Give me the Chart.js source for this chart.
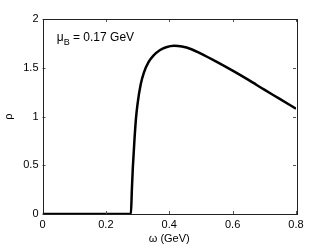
<!DOCTYPE html>
<html><head><meta charset="utf-8">
<script src="https://cdn.jsdelivr.net/npm/chart.js@4"></script>
<style>html,body{margin:0;padding:0;background:#fff;}#wrap{width:327px;height:246px;}</style>
</head><body><div id="wrap"><canvas id="c" width="327" height="246"></canvas></div>
<script>
const omega = [0, 0.279, 0.282, 0.285, 0.29, 0.295, 0.3, 0.31, 0.32, 0.335, 0.35, 0.37, 0.39, 0.415, 0.44, 0.47, 0.5, 0.55, 0.6, 0.65, 0.7, 0.75, 0.8];
const rho =   [0, 0,     0.25,  0.47,  0.75, 0.98,  1.13, 1.33, 1.45, 1.56,  1.625, 1.68, 1.71, 1.725, 1.718, 1.69, 1.645, 1.56, 1.47, 1.375, 1.275, 1.178, 1.08];
const xTicks = [0, 0.2, 0.4, 0.6, 0.8];
const yTicks = [0, 0.5, 1, 1.5, 2];
const annotation = {main: 'μ', sub: 'B', rest: ' = 0.17 GeV', x: 0.045, y: 1.77};

const FONT = '"Liberation Sans", Arial, sans-serif';
const boxPlugin = {
  id: 'box',
  afterDraw(chart) {
    const ctx = chart.ctx, a = chart.chartArea;
    const xs = chart.scales.x, ys = chart.scales.y;
    ctx.save();
    ctx.strokeStyle = '#555';
    ctx.lineWidth = 1;
    ctx.beginPath();
    xTicks.forEach(v => {
      const px = Math.round(xs.getPixelForValue(v)) + 0.5;
      ctx.moveTo(px, a.bottom); ctx.lineTo(px, a.bottom - 3);
      ctx.moveTo(px, a.top); ctx.lineTo(px, a.top + 3);
    });
    yTicks.forEach(v => {
      const py = Math.round(ys.getPixelForValue(v)) + 0.5;
      ctx.moveTo(a.left, py); ctx.lineTo(a.left + 3, py);
      ctx.moveTo(a.right, py); ctx.lineTo(a.right - 3, py);
    });
    ctx.stroke();
    ctx.strokeStyle = '#222';
    ctx.strokeRect(Math.round(a.left) + 0.5, Math.round(a.top) + 0.5, Math.round(a.right - a.left), Math.round(a.bottom - a.top));
    const tx = xs.getPixelForValue(annotation.x), ty = ys.getPixelForValue(annotation.y);
    ctx.fillStyle = '#000';
    ctx.textBaseline = 'alphabetic';
    ctx.font = '12px ' + FONT;
    ctx.fillText(annotation.main, tx, ty);
    let w = ctx.measureText(annotation.main).width;
    ctx.font = '9px ' + FONT;
    ctx.fillText(annotation.sub, tx + w, ty + 4);
    w += ctx.measureText(annotation.sub).width;
    ctx.font = '12px ' + FONT;
    ctx.fillText(annotation.rest, tx + w, ty);
    ctx.restore();
  }
};

new Chart(document.getElementById('c'), {
  type: 'line',
  data: {
    datasets: [{
      data: omega.map((w, i) => ({x: w, y: rho[i]})),
      borderColor: '#000',
      borderWidth: 2.5,
      pointRadius: 0,
      fill: false,
      cubicInterpolationMode: 'monotone'
    }]
  },
  options: {
    responsive: false,
    animation: false,
    devicePixelRatio: 1,
    layout: {padding: {top: 19, right: 31, left: 2, bottom: 0}},
    plugins: {legend: {display: false}, tooltip: {enabled: false}},
    scales: {
      x: {
        type: 'linear', min: 0, max: 0.8,
        afterBuildTicks: s => { s.ticks = xTicks.map(v => ({value: v})); },
        afterFit: s => { s.height = 32; },
        grid: {display: false, drawTicks: false},
        border: {display: false},
        ticks: {color: '#000', font: {size: 11, family: FONT}, padding: 4, maxRotation: 0,
                callback: v => String(v)},
        title: {display: true, text: 'ω (GeV)', color: '#000', font: {size: 11, family: FONT}, padding: {top: 0, bottom: 0}}
      },
      y: {
        type: 'linear', min: 0, max: 2,
        afterBuildTicks: s => { s.ticks = yTicks.map(v => ({value: v})); },
        afterFit: s => { s.width = 40.5; },
        grid: {display: false, drawTicks: false},
        border: {display: false},
        ticks: {color: '#000', font: {size: 11, family: FONT}, padding: 4,
                callback: v => String(v)},
        title: {display: true, text: 'ρ', color: '#000', font: {size: 11, family: FONT}, padding: {top: 0, bottom: 0}}
      }
    }
  },
  plugins: [boxPlugin]
});
</script></body></html>
